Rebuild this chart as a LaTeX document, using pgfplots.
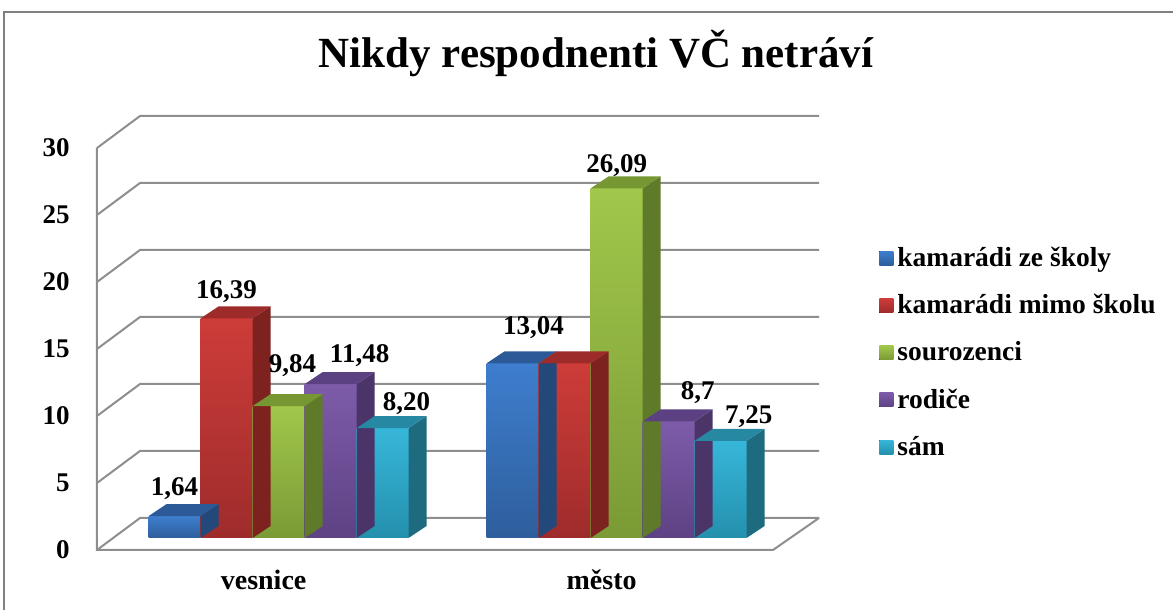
\documentclass[border=0pt]{standalone}
\usepackage{pgfplots}
\pgfplotsset{compat=1.18}
\usepackage{pgfplotstable}
\usepackage{fontspec}
\setmainfont{Liberation Serif}

\definecolor{blueA}{HTML}{3E7ECE}
\definecolor{blueB}{HTML}{2E5E9C}
\definecolor{blueT}{HTML}{2C5A98}
\definecolor{blueS}{HTML}{23487A}
\definecolor{redA}{HTML}{CD3C39}
\definecolor{redB}{HTML}{9E2C2B}
\definecolor{redT}{HTML}{9C2B29}
\definecolor{redS}{HTML}{7E2220}
\definecolor{greenA}{HTML}{A1C74B}
\definecolor{greenB}{HTML}{7A9A35}
\definecolor{greenT}{HTML}{779733}
\definecolor{greenS}{HTML}{5F7B29}
\definecolor{purpleA}{HTML}{7D5BA9}
\definecolor{purpleB}{HTML}{5E4284}
\definecolor{purpleT}{HTML}{5C4182}
\definecolor{purpleS}{HTML}{4A3468}
\definecolor{cyanA}{HTML}{37B6D9}
\definecolor{cyanB}{HTML}{2490AD}
\definecolor{cyanT}{HTML}{2788A3}
\definecolor{cyanS}{HTML}{1E6A7E}
\definecolor{gridc}{HTML}{8E8E8E}

\newcommand\labfont{\bfseries\fontsize{13.5}{16}\selectfont}

% side face of a bar (height from the data value)
\pgfdeclareplotmark{side3d}{%
  \pgfmathsetlengthmacro\barH{\rawy*6.7pt}%
  \pgfpathmoveto{\pgfqpoint{13pt}{0pt}}%
  \pgfpathlineto{\pgfqpoint{22pt}{6pt}}%
  \pgfpathlineto{\pgfpoint{22pt}{6pt-\barH}}%
  \pgfpathlineto{\pgfpoint{13pt}{-\barH}}%
  \pgfpathclose\pgfusepathqfill}
% top face of a bar
\pgfdeclareplotmark{top3d}{%
  \pgfpathmoveto{\pgfqpoint{-13pt}{0pt}}%
  \pgfpathlineto{\pgfqpoint{13pt}{0pt}}%
  \pgfpathlineto{\pgfqpoint{22pt}{6pt}}%
  \pgfpathlineto{\pgfqpoint{-4pt}{6pt}}%
  \pgfpathclose\pgfusepathqfill}

\pgfplotstableread{
x y lab lx ly
0 1.64 1,64 0 13.5
1 13.04 13,04 10.5 18
}\tblue
\pgfplotstableread{
x y lab lx ly
0 16.39 16,39 0 13.5
1 13.04 {} 0 0
}\tred
\pgfplotstableread{
x y lab lx ly
0 9.84 9,84 7 20.5
1 26.09 26,09 0 11.5
}\tgreen
\pgfplotstableread{
x y lab lx ly
0 11.48 11,48 14.5 14.5
1 8.7 8,7 14.5 14.5
}\tpurple
\pgfplotstableread{
x y lab lx ly
0 8.20 8,20 12 12.5
1 7.25 7,25 14 12
}\tcyan

\pgfplotsset{
  side3d/.style={forget plot, scatter, only marks, mark=side3d,
    point meta=y, scatter/use mapped color={fill=#1},
    visualization depends on={\thisrow{y} \as \rawy}},
  top3d/.style={forget plot, scatter, only marks, mark=top3d,
    point meta=y, scatter/use mapped color={fill=#1}},
  front/.style 2 args={ybar, bar width=26pt, draw=none,
    top color=#1, bottom color=#2,
    legend image code/.code={\fill[##1] (0pt,-3.5pt) rectangle (7pt,3.5pt);}},
  labels/.style={forget plot, draw=none, mark=none,
    nodes near coords, point meta=explicit symbolic,
    visualization depends on={\thisrow{lx} \as \lx},
    visualization depends on={\thisrow{ly} \as \ly},
    every node near coord/.append style={anchor=center, inner sep=0pt,
      xshift=#1+\lx pt, yshift=\ly pt, font=\labfont, text=black}},
}

\begin{document}
\begin{tikzpicture}
\useasboundingbox (0,0) rectangle (586.5pt,305pt);
\draw[black!50, line width=0.9pt] (2pt,-5pt) -- (2pt,299pt) -- (600pt,299pt);
\node[anchor=base, font=\bfseries\fontsize{21.5}{25}\selectfont] at (298pt,271pt)
  {Nikdy respodnenti VČ netráví};
\begin{axis}[
  at={(56.5pt,36pt)}, anchor=south west,
  x=169pt, y=6.7pt,
  xmin=-0.49, xmax=1.51, ymin=0, ymax=30,
  clip=false,
  axis line style={draw=none},
  tick style={draw=none},
  xtick={0,1}, xticklabels={vesnice, město},
  ytick={0,5,...,30},
  /pgf/number format/assume math mode=true,
  ticklabel style={font=\labfont},
  xticklabel style={font=\bfseries\fontsize{14}{16}\selectfont},
  yticklabel style={anchor=east, inner sep=0pt, xshift=-21.5pt, yshift=-6pt},
  xticklabel style={anchor=base, inner sep=0pt, xshift=-7.5pt, yshift=-26pt},
  legend style={draw=none, fill=none, at={(1.133,0.735)}, anchor=north west,
    inner sep=0pt, row sep=8.5pt, font=\bfseries\fontsize{13.75}{15}\selectfont,
    cells={anchor=west}},
  legend cell align=left,
]
% walls and floor
\pgfplotsinvokeforeach{0,5,...,30}{
  \draw[gridc, line width=1pt] ([shift={(-8pt,-6pt)}]axis cs:-0.49,#1)
    -- ([shift={(13.5pt,10pt)}]axis cs:-0.49,#1)
    -- ([shift={(15pt,10pt)}]axis cs:1.51,#1);
}
\draw[gridc, line width=1pt] ([shift={(-8pt,-6pt)}]axis cs:-0.49,30)
  -- ([shift={(-8pt,-6pt)}]axis cs:-0.49,0)
  -- ([shift={(-8pt,-6pt)}]axis cs:1.51,0)
  -- ([shift={(15pt,10pt)}]axis cs:1.51,0);

\addplot[side3d=blueS, xshift=-52pt] table[x=x,y=y] {\tblue};
\addplot[top3d=blueT, xshift=-52pt] table[x=x,y=y] {\tblue};
\addplot[front={blueA}{blueB}, bar shift=-52pt, restrict x to domain=0:0] table[x=x,y=y] {\tblue};
\addlegendentry{kamarádi ze školy}
\addplot[front={blueA}{blueB}, bar shift=-52pt, restrict x to domain=1:1, forget plot] table[x=x,y=y] {\tblue};

\addplot[side3d=redS, xshift=-26pt] table[x=x,y=y] {\tred};
\addplot[top3d=redT, xshift=-26pt] table[x=x,y=y] {\tred};
\addplot[front={redA}{redB}, bar shift=-26pt, restrict x to domain=0:0] table[x=x,y=y] {\tred};
\addlegendentry{kamarádi mimo školu}
\addplot[front={redA}{redB}, bar shift=-26pt, restrict x to domain=1:1, forget plot] table[x=x,y=y] {\tred};

\addplot[side3d=greenS] table[x=x,y=y] {\tgreen};
\addplot[top3d=greenT] table[x=x,y=y] {\tgreen};
\addplot[front={greenA}{greenB}, bar shift=0pt, restrict x to domain=0:0] table[x=x,y=y] {\tgreen};
\addlegendentry{sourozenci}
\addplot[front={greenA}{greenB}, bar shift=0pt, restrict x to domain=1:1, forget plot] table[x=x,y=y] {\tgreen};

\addplot[side3d=purpleS, xshift=26pt] table[x=x,y=y] {\tpurple};
\addplot[top3d=purpleT, xshift=26pt] table[x=x,y=y] {\tpurple};
\addplot[front={purpleA}{purpleB}, bar shift=26pt, restrict x to domain=0:0] table[x=x,y=y] {\tpurple};
\addlegendentry{rodiče}
\addplot[front={purpleA}{purpleB}, bar shift=26pt, restrict x to domain=1:1, forget plot] table[x=x,y=y] {\tpurple};

\addplot[side3d=cyanS, xshift=52pt] table[x=x,y=y] {\tcyan};
\addplot[top3d=cyanT, xshift=52pt] table[x=x,y=y] {\tcyan};
\addplot[front={cyanA}{cyanB}, bar shift=52pt, restrict x to domain=0:0] table[x=x,y=y] {\tcyan};
\addlegendentry{sám}
\addplot[front={cyanA}{cyanB}, bar shift=52pt, restrict x to domain=1:1, forget plot] table[x=x,y=y] {\tcyan};

% value labels, drawn last
\addplot[labels=-52pt] table[x=x,y=y,meta=lab] {\tblue};
\addplot[labels=-26pt] table[x=x,y=y,meta=lab] {\tred};
\addplot[labels=0pt] table[x=x,y=y,meta=lab] {\tgreen};
\addplot[labels=26pt] table[x=x,y=y,meta=lab] {\tpurple};
\addplot[labels=52pt] table[x=x,y=y,meta=lab] {\tcyan};
\end{axis}
\end{tikzpicture}
\end{document}
